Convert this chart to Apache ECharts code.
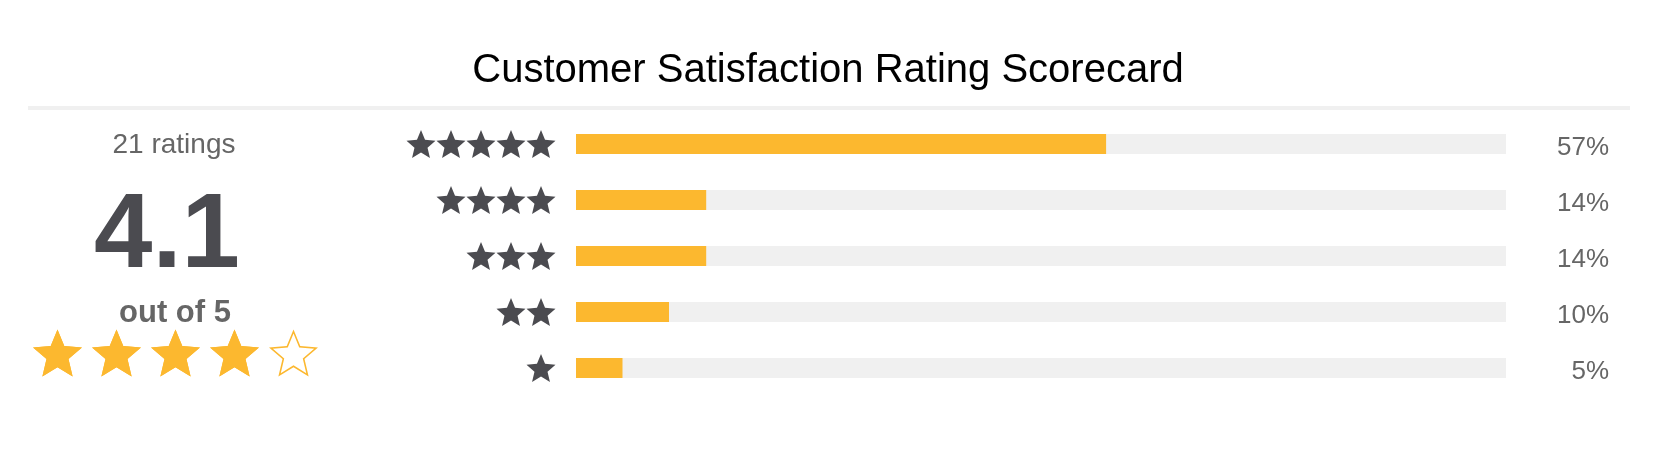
<!DOCTYPE html>
<html>
<head>
<meta charset="utf-8">
<title>Customer Satisfaction Rating Scorecard</title>
<script src="https://cdn.jsdelivr.net/npm/echarts@6/dist/echarts.min.js"></script>
<style>
  html, body { margin: 0; padding: 0; background: #fff; }
  #chart { width: 1656px; height: 468px; }
</style>
</head>
<body>
<div id="chart"></div>
<script>
  // rows, top to bottom
  var starCounts = [5, 4, 3, 2, 1]
  var percents = [57, 14, 14, 10, 5]

  // summary on the left
  var ratingCount = 21
  var ratingAvg = 4.1
  var ratingMax = 5
  var fullStars = 4

  var STAR = 'path://M50 0L63.2 31.8L97.6 34.5L71.4 57L79.4 90.5L50 72.5L20.6 90.5L28.6 57L2.4 34.5L36.8 31.8Z'
  // same star with a hole cut in it (inner contour runs the other way)
  var STAR_HOLLOW = STAR + 'M50 7.85L38.9 34.7L9.9 36.9L32 55.9L25.2 84.1L50 69L74.8 84.1L68 55.9L90.1 36.9L61.1 34.7Z'
  var yellow = '#fcb82f'
  var dark = '#4b4b50'
  var grey = '#666'
  var font = 'Arial, "Liberation Sans", sans-serif'

  var rows = starCounts.map(function (n) { return n + ' stars' })
  var chart = echarts.init(document.getElementById('chart'))

  chart.setOption({
    animation: false,
    title: {
      text: 'Customer Satisfaction Rating Scorecard',
      left: 'center',
      top: 46,
      textStyle: { fontSize: 40, fontWeight: 'normal', color: '#000', fontFamily: font }
    },
    graphic: [
      { type: 'rect', shape: { x: 28, y: 106, width: 1602, height: 4 }, style: { fill: '#f0f0f0' } },
      {
        type: 'text', x: 174, y: 145,
        style: { text: ratingCount + ' ratings', align: 'center', verticalAlign: 'middle', fontSize: 28, fontFamily: font, fill: grey }
      },
      {
        type: 'text', x: 167, y: 238,
        style: { text: ratingAvg.toFixed(1), align: 'center', verticalAlign: 'middle', fontSize: 105, fontWeight: 'bold', fontFamily: font, fill: dark }
      },
      {
        type: 'text', x: 175, y: 313,
        style: { text: 'out of ' + ratingMax, align: 'center', verticalAlign: 'middle', fontSize: 31, fontWeight: 'bold', fontFamily: font, fill: grey }
      }
    ],
    grid: [
      { left: 406, top: 116, width: 150, height: 280 },   // star labels
      { left: 576, top: 116, width: 930, height: 280 },   // percent bars
      { left: 28, top: 328, width: 295, height: 50 },     // average stars
      { left: 576, top: 120, width: 930, height: 280 }    // percent labels, sit a little low
    ],
    xAxis: [
      { gridIndex: 0, type: 'value', min: 0, max: 5, inverse: true, show: false },
      { gridIndex: 1, type: 'value', min: 0, max: 100, show: false },
      { gridIndex: 2, type: 'value', min: 0, max: ratingMax, show: false },
      { gridIndex: 3, type: 'value', min: 0, max: 100, show: false }
    ],
    yAxis: [
      { gridIndex: 0, type: 'category', data: rows, inverse: true, show: false },
      { gridIndex: 1, type: 'category', data: rows, inverse: true, show: false },
      { gridIndex: 2, type: 'category', data: ['avg'], show: false },
      {
        gridIndex: 3, type: 'category', data: rows, inverse: true, position: 'right',
        axisLine: { show: false }, axisTick: { show: false },
        axisLabel: {
          margin: 103, align: 'right', fontSize: 26, color: grey, fontFamily: font,
          formatter: function (v, i) { return percents[i] + '%' }
        }
      }
    ],
    series: [
      {
        type: 'pictorialBar', xAxisIndex: 0, yAxisIndex: 0,
        data: starCounts,
        symbol: STAR, symbolRepeat: true, symbolSize: [29, 28], symbolMargin: '0.5!',
        itemStyle: { color: dark }
      },
      {
        type: 'bar', xAxisIndex: 1, yAxisIndex: 1,
        data: percents, barWidth: 20,
        itemStyle: { color: yellow },
        showBackground: true,
        backgroundStyle: { color: '#f0f0f0' }
      },
      {
        type: 'pictorialBar', xAxisIndex: 2, yAxisIndex: 2,
        data: [ratingMax],
        symbol: STAR_HOLLOW, symbolRepeat: true, symbolSize: [49, 47], symbolMargin: '5!',
        itemStyle: { color: yellow }
      },
      {
        type: 'pictorialBar', xAxisIndex: 2, yAxisIndex: 2,
        data: [fullStars],
        symbol: STAR, symbolRepeat: true, symbolSize: [49, 47], symbolMargin: '5!',
        itemStyle: { color: yellow }
      }
    ]
  })
</script>
</body>
</html>
